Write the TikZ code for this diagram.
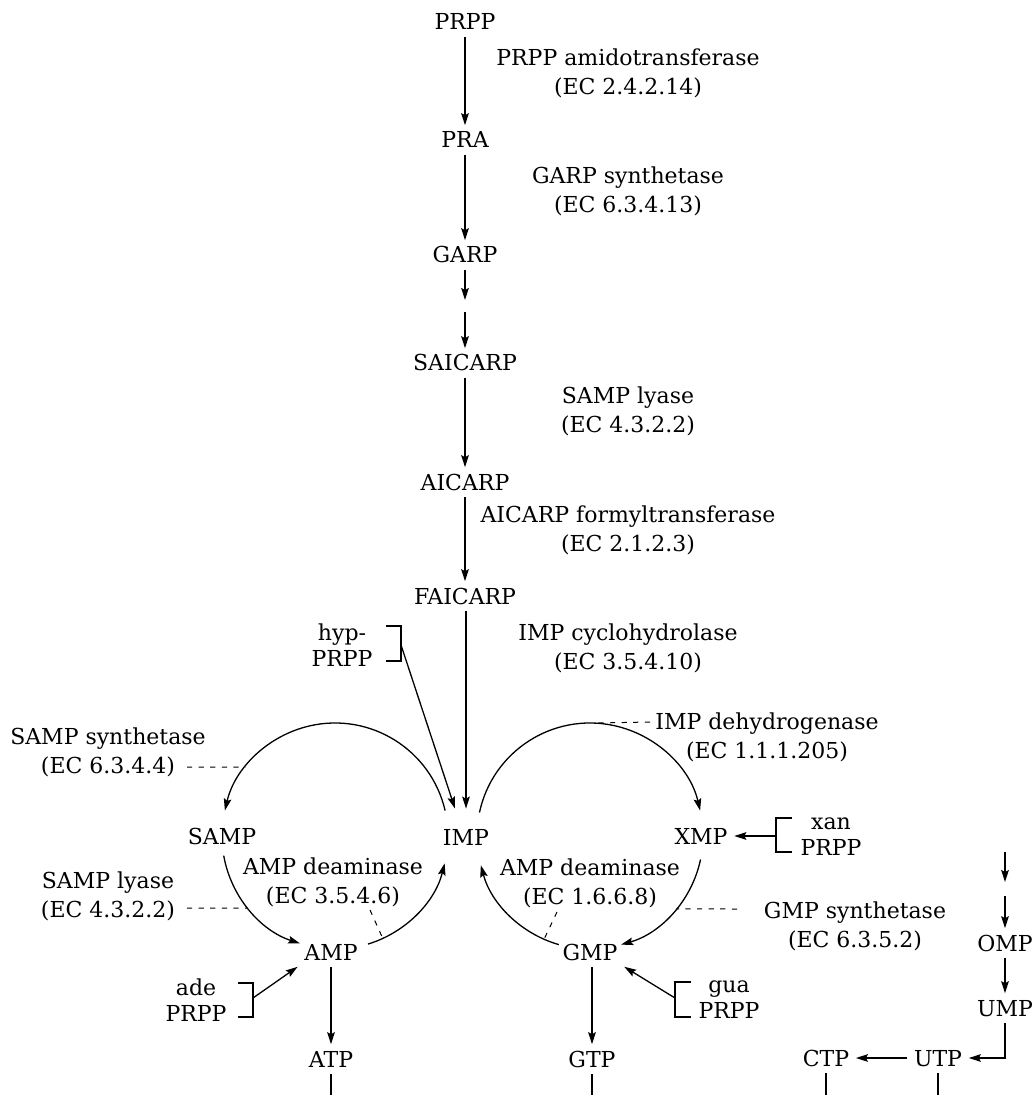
\documentclass[tikz,border=0pt]{standalone}
\usepackage{fontspec}
\setmainfont{DejaVu Serif}
\usetikzlibrary{arrows.meta}

\begin{document}
\begin{tikzpicture}[x=0.5pt, y=0.5pt,
    every node/.style={font=\fontsize{11}{14.5}\selectfont},
    metab/.style={text height=8pt, text depth=0pt, inner sep=3.2pt},
    enz/.style={align=center},
    subs/.style={align=center, font=\fontsize{11}{13}\selectfont},
    arr/.style={-{Stealth[length=6pt, width=3.8pt, inset=1pt]}, line width=0.65pt},
    link/.style={line width=0.5pt, dash pattern=on 2.6pt off 3.2pt},
    brak/.style={line width=0.65pt}
  ]
  \useasboundingbox (0,0) rectangle (1034,-1095);

  % de novo chain
  \node[metab] (prpp) at (465,-22) {PRPP};
  \node[metab] (pra) at (465,-140) {PRA};
  \node[metab] (garp) at (465,-255) {GARP};
  \node[metab] (saicarp) at (465,-363) {SAICARP};
  \node[metab] (aicarp) at (465,-482) {AICARP};
  \node[metab] (faicarp) at (465,-596) {FAICARP};
  \node[metab, inner ysep=10pt] (imp) at (466,-837) {IMP};

  \coordinate (garpa) at (465,-300);
  \coordinate (garpb) at (465,-312);

  \draw[arr] (prpp) -- (pra);
  \draw[arr] (pra) -- (garp);
  \draw[arr] (garp) -- (garpa);
  \draw[arr] (garpb) -- (saicarp);
  \draw[arr] (saicarp) -- (aicarp);
  \draw[arr] (aicarp) -- (faicarp);
  \draw[arr] (faicarp.south -| imp.north) -- (imp.north);

  \node[enz] (amido) at (628,-73) {PRPP amidotransferase\\(EC 2.4.2.14)};
  \node[enz] (garps) at (628,-191) {GARP synthetase\\(EC 6.3.4.13)};
  \node[enz] (lyase1) at (628,-411) {SAMP lyase\\(EC 4.3.2.2)};
  \node[enz] (formyl) at (628,-530) {AICARP formyltransferase\\(EC 2.1.2.3)};
  \node[enz] (cyclo) at (628,-648) {IMP cyclohydrolase\\(EC 3.5.4.10)};

  % salvage of hypoxanthine
  \node[subs] (hyp) at (342,-645) {hyp-\\PRPP};
  \draw[brak] (386,-626) -- (401,-626) -- (401,-661) -- (386,-661);
  \coordinate (hypbr) at (401,-645);
  \draw[arr] (hypbr) -- ([xshift=-5.5pt]imp.north);

  % the two loops
  \coordinate (lc) at (335,-836);
  \coordinate (rc) at (590,-836);

  \node[metab] (samp) at (222,-836) {SAMP};
  \node[metab] (amp) at (331,-952) {AMP};
  \node[metab] (atp) at (331,-1059) {ATP};
  \node[metab] (xmp) at (701,-836) {XMP};
  \node[metab] (gmp) at (590,-952) {GMP};
  \node[metab] (gtp) at (592,-1059) {GTP};

  \draw[arr] ([shift={(13:113)}]lc) arc[start angle=13, end angle=167, radius=113];
  \draw[arr] ([shift={(190:113)}]lc) arc[start angle=190, end angle=252, radius=113];
  \draw[arr] ([shift={(287:113)}]lc) arc[start angle=287, end angle=346, radius=113];
  \draw[arr] ([shift={(168:113)}]rc) arc[start angle=168, end angle=13, radius=113];
  \draw[arr] ([shift={(-12:113)}]rc) arc[start angle=-12, end angle=-74, radius=113];
  \draw[arr] ([shift={(-106:113)}]rc) arc[start angle=-106, end angle=-165, radius=113];

  \draw[arr] (amp.south -| atp.north) -- (atp);
  \draw[arr] (gmp.south -| gtp.north) -- (gtp);

  \node[enz] (ssyn) at (108,-752) {SAMP synthetase\\(EC 6.3.4.4)};
  \node[enz] (lyase2) at (108,-896) {SAMP lyase\\(EC 4.3.2.2)};
  \node[enz] (deam1) at (333,-882) {AMP deaminase\\(EC 3.5.4.6)};
  \node[enz] (deam2) at (590,-883) {AMP deaminase\\(EC 1.6.6.8)};
  \node[enz] (dehyd) at (767,-737) {IMP dehydrogenase\\(EC 1.1.1.205)};
  \node[enz] (gsyn) at (855,-926) {GMP synthetase\\(EC 6.3.5.2)};

  \coordinate (ssynd) at (187,-767);
  \coordinate (lyased) at (187,-908);
  \coordinate (deamd1) at (370,-910);
  \coordinate (deamd2) at (557,-912);
  \coordinate (dehydd) at (650,-722);
  \coordinate (gsynd) at (737,-909);
  \draw[link] (ssynd) -- ([shift={(142.4:113)}]lc);
  \draw[link] (lyased) -- ([shift={(219.6:113)}]lc);
  \draw[link] (deamd1) -- ([shift={(295:113)}]lc);
  \draw[link] (deamd2) -- ([shift={(246:113)}]rc);
  \draw[link] (dehydd) -- ([shift={(88:113)}]rc);
  \draw[link] (gsynd) -- ([shift={(-40.2:113)}]rc);

  % salvage of adenine, xanthine, guanine
  \node[subs] (ade) at (196,-1000) {ade\\PRPP};
  \draw[brak] (238,-983) -- (253,-983) -- (253,-1017) -- (238,-1017);
  \coordinate (adebr) at (253,-998);
  \draw[arr] (adebr) -- (amp.south west);

  \node[subs] (xan) at (831,-837) {xan\\PRPP};
  \draw[brak] (792,-818) -- (776,-818) -- (776,-852) -- (792,-852);
  \coordinate (xanbr) at (776,-836);
  \draw[arr] (xanbr) -- (xmp);

  \node[subs] (gua) at (729,-1000) {gua\\PRPP};
  \draw[brak] (691,-982) -- (675,-982) -- (675,-1017) -- (691,-1017);
  \coordinate (guabr) at (675,-998);
  \draw[arr] (guabr) -- (gmp.south east);

  % pyrimidines
  \node[metab] (omp) at (1005,-943) {OMP};
  \node[metab] (ump) at (1005,-1008) {UMP};
  \node[metab] (utp) at (938,-1058) {UTP};
  \node[metab] (ctp) at (826,-1058) {CTP};
  \coordinate (ompa) at (1005,-852);
  \coordinate (ompb) at (1005,-882);
  \coordinate (ompc) at (1005,-896);
  \draw[arr] (ompa) -- (ompb);
  \draw[arr] (ompc) -- (omp);
  \draw[arr] (omp) -- (ump);
  \draw[arr] (ump) |- (utp);
  \draw[arr] (utp) -- (ctp);

  % stubs to the next part
  \foreach \n in {atp, gtp, ctp, utp}
    \draw[line width=0.65pt] (\n.south) -- (\n.south |- 0,-1095);
\end{tikzpicture}
\end{document}
